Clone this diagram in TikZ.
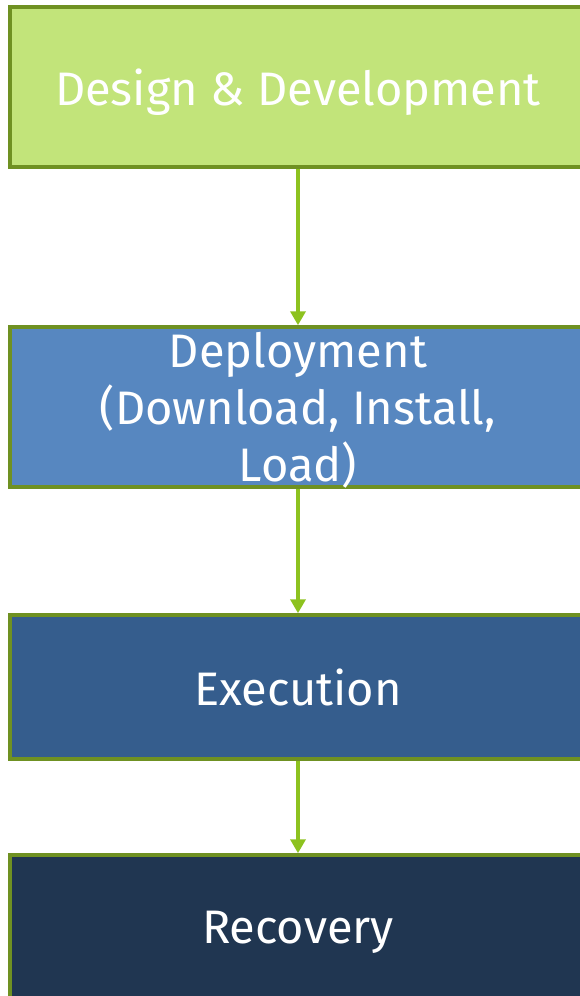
\documentclass[tikz,border=0pt]{standalone}
\usepackage{fontspec}
\setmainfont{Fira Sans}
\usepackage{xcolor}
\usetikzlibrary{arrows.meta,positioning}
\definecolor{lcedge}{HTML}{6F9122}
\definecolor{lcarrow}{HTML}{8DC21F}
\definecolor{lcdesign}{HTML}{C2E47A}
\definecolor{lcdeploy}{HTML}{5787C0}
\definecolor{lcexec}{HTML}{355D8D}
\definecolor{lcrecover}{HTML}{203651}
\tikzset{
lcbox/.style={rectangle,draw=lcedge,line width=3.5pt,align=center,inner sep=0pt,minimum width=576pt,minimum height=160pt,text depth=0pt,text=white,font=\fontsize{47}{57}\selectfont},
lcarr/.style={-{Triangle[width=15pt,length=14pt]},line width=3.5pt,draw=lcarrow}
}

\begin{document}
\begin{tikzpicture}[
x=1pt,
y=1pt
]
\useasboundingbox (0,0) rectangle (580,-996);
\clip (0,0) rectangle (580,-996);
\node[lcbox,fill=lcdesign]
  (design) at (298,-87) {Design \& Development};
\node[lcbox,fill=lcdeploy]
  (deploy) at (298,-407) {Deployment\\(Download, Install,\\Load)};
\node[lcbox,fill=lcexec,minimum height=144pt]
  (exec) at (298,-687) {Execution};
\node[lcbox,fill=lcrecover,minimum height=145pt]
  (recover) at (298,-927.5) {Recovery};
\draw[lcarr] (design)--(deploy);
\draw[lcarr] (deploy)--(exec);
\draw[lcarr] (exec)--(recover);
\end{tikzpicture}
\end{document}
